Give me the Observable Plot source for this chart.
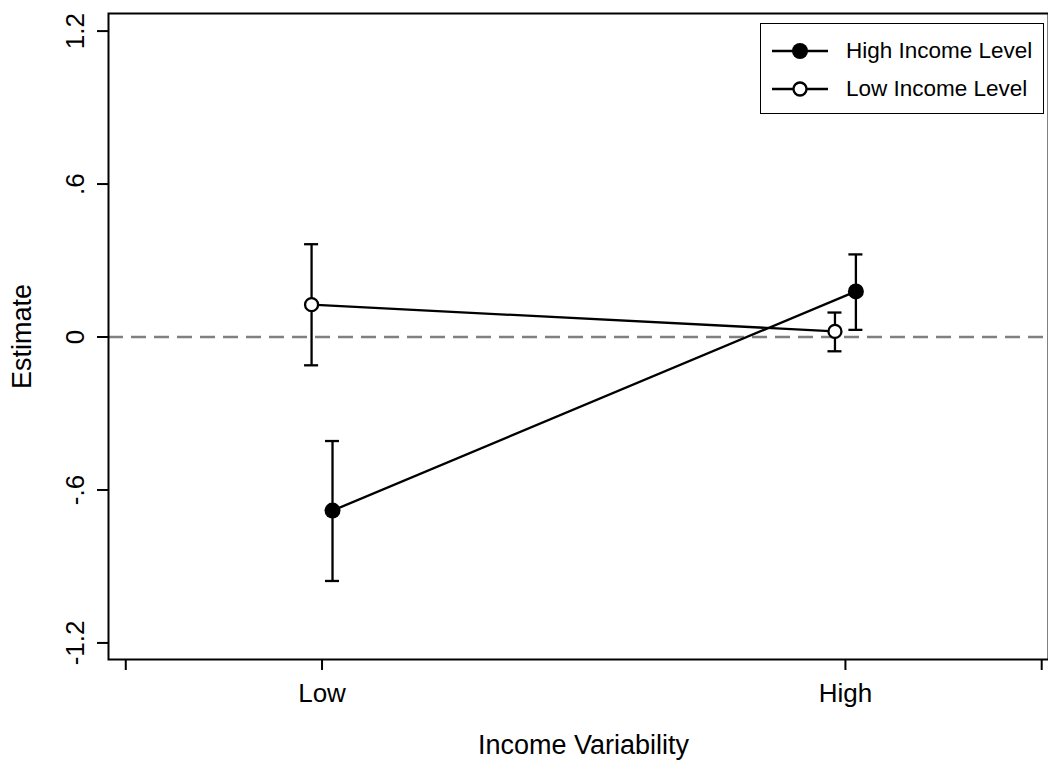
<!DOCTYPE html>
<html>
<head>
<meta charset="utf-8">
<script src="https://cdn.jsdelivr.net/npm/d3@7"></script>
<script src="https://cdn.jsdelivr.net/npm/@observablehq/plot@0.6"></script>
<style>
  html, body { margin: 0; padding: 0; background: #fff; }
  #wrap { position: relative; width: 1048px; height: 761px; overflow: hidden; font-family: "Liberation Sans", Arial, sans-serif; }
  #legend { position: absolute; left: 760px; top: 23px; width: 284px; height: 91px; border: 1.5px solid #000; box-sizing: border-box; background: #fff; }
  .lrow { position: absolute; left: 0; height: 24px; display: flex; align-items: center; }
  .lrow span { font-size: 22.5px; color: #000; white-space: nowrap; }
</style>
</head>
<body>
<div id="wrap"><div id="chart"></div><div id="legend"></div></div>
<script>
// ---- data ----
const categories = ["Low", "High"];
const xPos = [1, 2];
const seriesNames = ["High Income Level", "Low Income Level"];
const highEst = [-0.681, 0.179];
const highLo  = [-0.957, 0.028];
const highHi  = [-0.408, 0.324];
const lowEst  = [0.127, 0.022];
const lowLo   = [-0.111, -0.056];
const lowHi   = [0.364, 0.096];
const yTicks = [-1.2, -0.6, 0, 0.6, 1.2];
const yTickLabels = ["-1.2", "-.6", "0", ".6", "1.2"];
const xTicks = [0.625, 1, 2, 2.375];

// ---- build table ----
const dodge = {"High Income Level": 0.02, "Low Income Level": -0.02};
const rows = [];
categories.forEach((c, i) => {
  rows.push({series: seriesNames[0], x: xPos[i] + dodge[seriesNames[0]], est: highEst[i], lo: highLo[i], hi: highHi[i]});
  rows.push({series: seriesNames[1], x: xPos[i] + dodge[seriesNames[1]], est: lowEst[i], lo: lowLo[i], hi: lowHi[i]});
});
const capHalf = 0.0134;
const highRows = rows.filter(d => d.series === seriesNames[0]);
const lowRows = rows.filter(d => d.series === seriesNames[1]);
const SW = 2.3;

const chart = Plot.plot({
  width: 1048,
  height: 761,
  marginLeft: 108,
  marginRight: 0,
  marginTop: 13,
  marginBottom: 102,
  x: {domain: [0.592, 2.388], axis: null},
  y: {domain: [-1.265, 1.269], axis: null},
  style: {fontFamily: '"Liberation Sans", Arial, sans-serif', background: "#fff", color: "#000"},
  marks: [
    Plot.ruleY([0], {stroke: "#808080", strokeWidth: 2.3, strokeDasharray: "15,8"}),
    Plot.axisY(yTicks, {tickSize: 11, strokeWidth: 2, tickFormat: () => "", anchor: "left", label: null}),
    Plot.axisX(xTicks, {tickSize: 11, strokeWidth: 2, tickFormat: () => "", anchor: "bottom", label: null}),
    Plot.text(yTicks, {y: d => d, text: (d, i) => yTickLabels[i], frameAnchor: "left", dx: -33, rotate: -90, textAnchor: "middle", lineAnchor: "middle", fontSize: 26}),
    Plot.text(categories, {x: (d, i) => xPos[i], text: d => d, frameAnchor: "bottom", dy: 34, textAnchor: "middle", lineAnchor: "middle", fontSize: 26}),
    Plot.text(["Estimate"], {text: d => d, frameAnchor: "left", dx: -86, rotate: -90, textAnchor: "middle", lineAnchor: "middle", fontSize: 27}),
    Plot.text(["Income Variability"], {text: d => d, frameAnchor: "bottom", dy: 86, dx: 5, textAnchor: "middle", lineAnchor: "middle", fontSize: 27}),
    Plot.ruleX(rows, {x: "x", y1: "lo", y2: "hi", stroke: "#000", strokeWidth: SW}),
    Plot.ruleY(rows, {y: "lo", x1: d => d.x - capHalf, x2: d => d.x + capHalf, stroke: "#000", strokeWidth: SW}),
    Plot.ruleY(rows, {y: "hi", x1: d => d.x - capHalf, x2: d => d.x + capHalf, stroke: "#000", strokeWidth: SW}),
    Plot.line(rows, {x: "x", y: "est", z: "series", stroke: "#000", strokeWidth: SW}),
    Plot.dot(highRows, {x: "x", y: "est", r: 8, fill: "#000", stroke: "none"}),
    Plot.dot(lowRows, {x: "x", y: "est", r: 6.5, fill: "#fff", stroke: "#000", strokeWidth: SW}),
    Plot.frame({stroke: "#000", strokeWidth: 2})
  ]
});
document.getElementById("chart").appendChild(chart);

// ---- legend ----
const legend = document.getElementById("legend");
const legendY = [15, 53];
seriesNames.forEach((name, i) => {
  const row = document.createElement("div");
  row.className = "lrow";
  row.style.top = legendY[i] + "px";
  const filled = i === 0;
  row.innerHTML = `<svg width="68" height="24" style="margin-left:10px;display:block">
    <line x1="1" x2="57" y1="12" y2="12" stroke="#000" stroke-width="${SW}"/>
    <circle cx="29" cy="12" r="${filled ? 8 : 6.5}" fill="${filled ? "#000" : "#fff"}" stroke="${filled ? "none" : "#000"}" stroke-width="${SW}"/>
  </svg><span style="margin-left:7px">${name}</span>`;
  legend.appendChild(row);
});
</script>
</body>
</html>
